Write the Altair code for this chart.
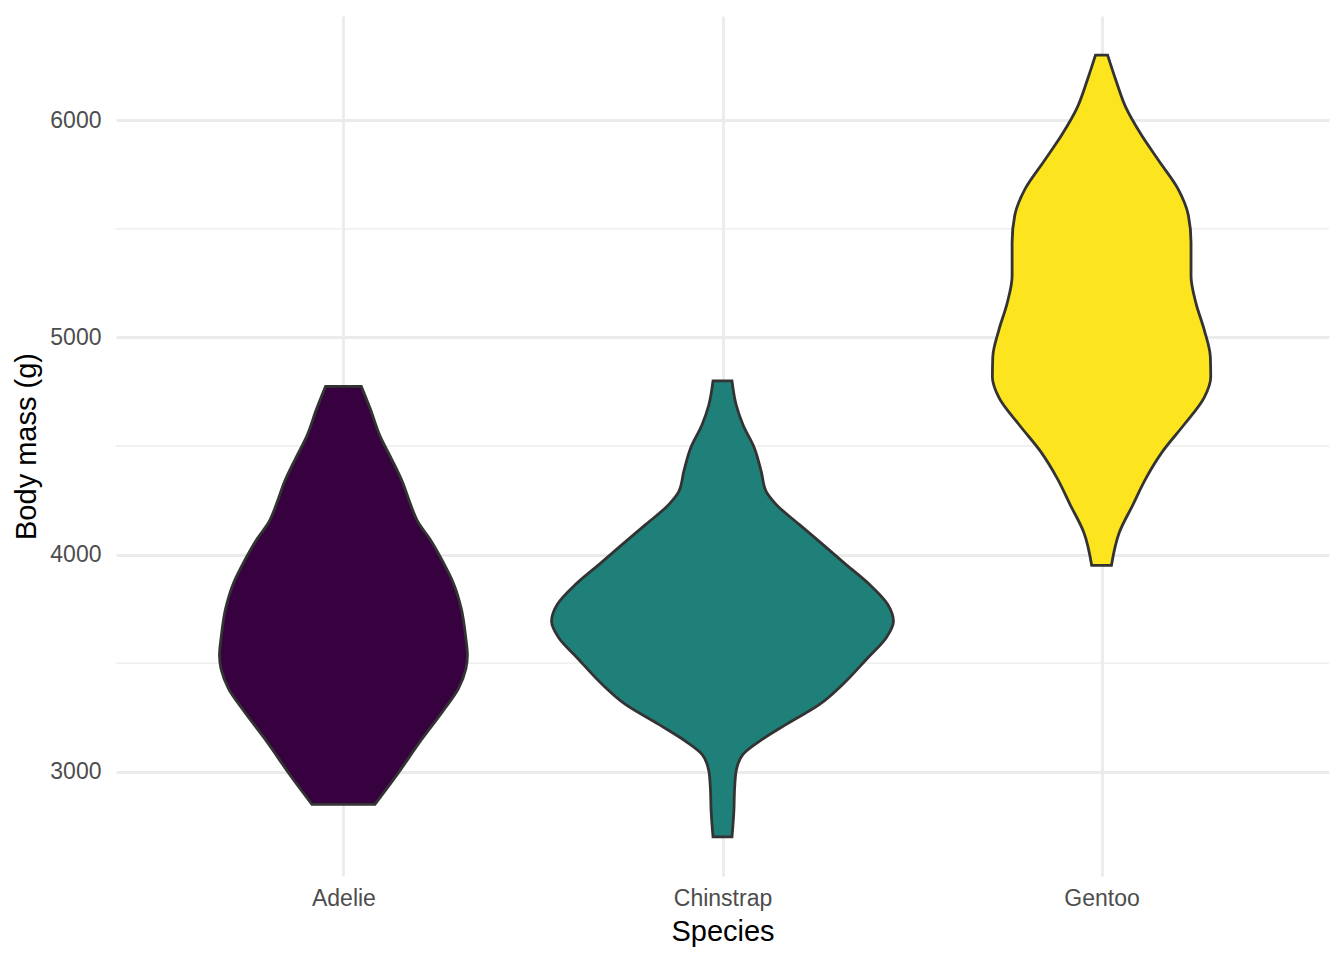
import altair as alt
import pandas as pd

# ---- data (violin outlines: body mass g, half-width in category units)
species = ["Adelie", "Chinstrap", "Gentoo"]
colors = ["#37013F", "#1F8079", "#FCE51F"]

adelie_mass = [2850, 2983, 3136, 3290, 3382, 3474, 3535, 3627, 3750, 3873, 3965, 4072, 4149, 4241, 4333, 4440, 4548, 4670, 4775]
adelie_half = [0.083, 0.140, 0.201, 0.267, 0.303, 0.323, 0.327, 0.322, 0.311, 0.289, 0.263, 0.228, 0.197, 0.175, 0.156, 0.127, 0.096, 0.071, 0.047]

chinstrap_mass = [2700, 2819, 2926, 3003, 3080, 3141, 3218, 3310, 3402, 3524, 3617, 3693, 3770, 3862, 3954, 4046, 4138, 4230, 4291, 4384, 4491, 4598, 4690, 4800]
chinstrap_half = [0.025, 0.030, 0.032, 0.036, 0.054, 0.098, 0.168, 0.256, 0.317, 0.383, 0.432, 0.451, 0.436, 0.388, 0.326, 0.265, 0.203, 0.142, 0.115, 0.102, 0.084, 0.054, 0.036, 0.025]

gentoo_mass = [3950, 4103, 4227, 4351, 4475, 4599, 4724, 4817, 4910, 5034, 5158, 5283, 5438, 5562, 5686, 5811, 5935, 6059, 6183, 6300]
gentoo_half = [0.026, 0.047, 0.082, 0.117, 0.161, 0.218, 0.271, 0.288, 0.287, 0.271, 0.249, 0.236, 0.236, 0.229, 0.201, 0.152, 0.104, 0.064, 0.038, 0.016]

y_major = [3000, 4000, 5000, 6000]
y_minor = [3500, 4500, 5500]
x_ticks = [1, 2, 3]

rows = []
for i, (name, masses, halves) in enumerate(
    [("Adelie", adelie_mass, adelie_half),
     ("Chinstrap", chinstrap_mass, chinstrap_half),
     ("Gentoo", gentoo_mass, gentoo_half)]):
    for m, h in zip(masses, halves):
        rows.append({"species": name, "pos": i + 1, "mass": m, "half": h})
df = pd.DataFrame(rows)

FONT = "Liberation Sans"
GRID = "#EBEBEB"

x_scale = alt.Scale(domain=[0.4, 3.6], nice=False, zero=False)
y_scale = alt.Scale(domain=[2520, 6480], nice=False, zero=False)

minor = alt.Chart(pd.DataFrame({"v": y_minor})).mark_rule(
    color=GRID, strokeWidth=1.4
).encode(y=alt.Y("v:Q", scale=y_scale))

violins = alt.Chart(df).transform_calculate(
    left="datum.pos - datum.half",
    right="datum.pos + datum.half",
).mark_area(
    orient="horizontal", interpolate="monotone",
    stroke="#333333", strokeWidth=2.8, fillOpacity=1
).encode(
    y=alt.Y("mass:Q", scale=y_scale, title="Body mass (g)",
            axis=alt.Axis(values=y_major, format="d", grid=True, gridColor=GRID, gridWidth=2.8,
                          domain=False, ticks=False, labelPadding=15,
                          labelFontSize=23, labelColor="#4D4D4D", labelFont=FONT,
                          titleFontSize=29, titleColor="black", titleFont=FONT,
                          titleFontWeight="normal", titlePadding=8)),
    x=alt.X("left:Q", scale=x_scale, title="Species",
            axis=alt.Axis(values=x_ticks, grid=True, gridColor=GRID, gridWidth=2.8,
                          domain=False, ticks=False, labelPadding=11,
                          labelExpr="datum.value == 1 ? 'Adelie' : datum.value == 2 ? 'Chinstrap' : 'Gentoo'",
                          labelFontSize=23, labelColor="#4D4D4D", labelFont=FONT,
                          titleFontSize=29, titleColor="black", titleFont=FONT,
                          titleFontWeight="normal", titlePadding=7)),
    x2="right:Q",
    color=alt.Color("species:N", scale=alt.Scale(domain=species, range=colors), legend=None),
    detail="species:N",
)

chart = alt.layer(minor, violins).properties(
    width=1213, height=860,
    padding={"left": 4, "top": 8, "right": 5, "bottom": 5},
).configure_view(stroke=None)

chart.save("out.html", embed_options={"renderer": "svg", "actions": False})
